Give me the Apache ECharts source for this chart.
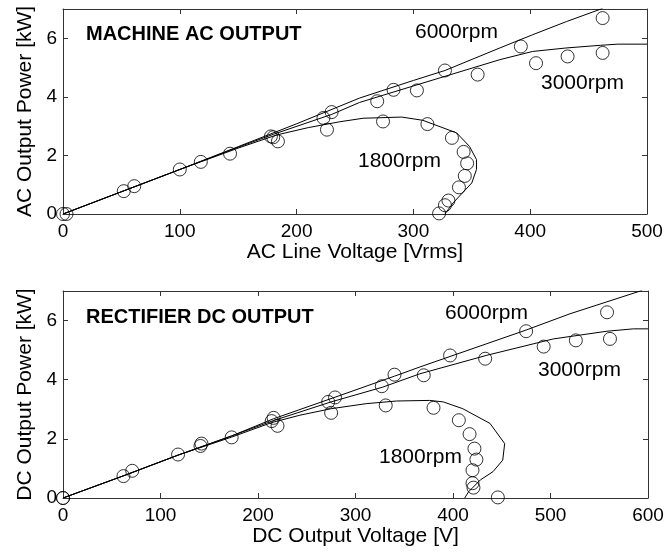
<!DOCTYPE html>
<html>
<head>
<meta charset="utf-8">
<script src="https://cdn.jsdelivr.net/npm/echarts@6/dist/echarts.min.js"></script>
<style>
  html, body { margin: 0; padding: 0; background: #fff; }
  #main { width: 669px; height: 557px; }
</style>
</head>
<body>
<div id="main"></div>
<script>
// ---- machine AC output (top) ----
// fitted curves
var acCurve6000V = [0, 50, 100, 150, 200, 254, 300, 327, 374, 402, 431, 462];
var acCurve6000P = [0, 0.76, 1.52, 2.3, 3.08, 3.96, 4.56, 4.9, 5.67, 6.12, 6.57, 7.02];
var acCurve3000V = [0, 50, 100, 150, 180, 230, 254, 303, 327, 374, 402, 431, 460, 475, 500];
var acCurve3000P = [0, 0.76, 1.52, 2.28, 2.72, 3.4, 3.81, 4.41, 4.7, 5.27, 5.55, 5.67, 5.76, 5.8, 5.8];
var acCurve1800V = [0, 50, 100, 150, 183, 210, 237, 257, 290, 308, 337, 348, 354, 354, 350, 342, 334, 327];
var acCurve1800P = [0, 0.76, 1.52, 2.25, 2.7, 2.95, 3.15, 3.27, 3.31, 3.2, 2.77, 2.31, 1.86, 1.52, 1.06, 0.72, 0.38, 0];
// measured points
var acMeas6000V = [3, 61, 118, 180, 230, 283, 327, 392, 462];
var acMeas6000P = [0, 0.95, 1.78, 2.62, 3.48, 4.24, 4.9, 5.72, 6.69];
var acMeas3000V = [0, 52, 100, 143, 178, 223, 269, 303, 355, 405, 432, 462];
var acMeas3000P = [0, 0.78, 1.52, 2.06, 2.65, 3.28, 3.85, 4.22, 4.76, 5.15, 5.38, 5.5];
var acMeas1800V = [184, 226, 274, 312, 333, 343, 346, 344, 339, 330, 327, 322];
var acMeas1800P = [2.48, 2.88, 3.16, 3.07, 2.6, 2.12, 1.73, 1.3, 0.91, 0.46, 0.3, 0.02];

// ---- rectifier DC output (bottom) ----
var dcCurve6000V = [0, 62, 118, 173, 216, 280, 340, 366, 434, 475, 520, 594];
var dcCurve6000P = [0, 0.75, 1.45, 2.1, 2.68, 3.42, 4.12, 4.43, 5.21, 5.68, 6.23, 7.02];
var dcCurve3000V = [0, 62, 118, 173, 216, 275, 328, 366, 434, 503, 558, 585, 600];
var dcCurve3000P = [0, 0.75, 1.45, 2.1, 2.62, 3.25, 3.75, 4.2, 4.82, 5.38, 5.64, 5.72, 5.72];
var dcCurve1800V = [0, 62, 118, 173, 214, 243, 275, 311, 342, 376, 390, 410, 438, 453, 451, 441, 428, 416, 412];
var dcCurve1800P = [0, 0.75, 1.45, 2.06, 2.55, 2.8, 3.02, 3.19, 3.28, 3.3, 3.25, 3.02, 2.52, 1.84, 1.28, 0.89, 0.61, 0.21, 0];
var dcMeas6000V = [0, 71, 142, 216, 279, 340, 397, 475, 558];
var dcMeas6000P = [0, 0.92, 1.84, 2.71, 3.4, 4.17, 4.82, 5.64, 6.28];
var dcMeas3000V = [0, 62, 118, 141, 173, 214, 272, 327, 370, 433, 493, 526, 561];
var dcMeas3000P = [0, 0.74, 1.47, 1.76, 2.05, 2.6, 3.25, 3.78, 4.15, 4.71, 5.12, 5.33, 5.38];
var dcMeas1800V = [220, 275, 331, 380, 406, 417, 422, 424, 420, 420, 421, 446];
var dcMeas1800P = [2.44, 2.88, 3.13, 3.05, 2.63, 2.16, 1.67, 1.3, 0.94, 0.5, 0.35, 0.02];

var yTicks = [0, 2, 4, 6];

function pairs(xs, ys) {
  var out = [];
  for (var i = 0; i < xs.length; i++) out.push([xs[i], ys[i]]);
  return out;
}

var FONT = 'Liberation Sans';
var frameColor = '#333';

function mainX(grid, max, name) {
  return {
    type: 'value', gridIndex: grid, min: 0, max: max, interval: 100,
    name: name, nameLocation: 'middle', nameGap: 28,
    nameTextStyle: { fontFamily: FONT, fontSize: 21, color: '#000' },
    axisLine: { show: true, onZero: false, lineStyle: { color: frameColor, width: 1 } },
    axisTick: { inside: true, length: 5, lineStyle: { color: frameColor } },
    axisLabel: { margin: 8, fontFamily: FONT, fontSize: 19, color: '#000' },
    splitLine: { show: false }
  };
}
function mainY(grid, name) {
  return {
    type: 'value', gridIndex: grid, min: 0, max: 7, interval: 2,
    name: name, nameLocation: 'middle', nameGap: 26,
    nameTextStyle: { fontFamily: FONT, fontSize: 21, color: '#000' },
    axisLine: { show: true, onZero: false, lineStyle: { color: frameColor, width: 1 } },
    axisTick: { inside: true, length: 5, lineStyle: { color: frameColor } },
    axisLabel: {
      margin: 6, fontFamily: FONT, fontSize: 19, color: '#000',
      formatter: function (v) { return yTicks.indexOf(v) >= 0 ? String(v) : ''; }
    },
    splitLine: { show: false }
  };
}
function frameX(grid, max) {
  return {
    type: 'value', gridIndex: grid, min: 0, max: max, interval: 100, position: 'top',
    axisLine: { show: true, onZero: false, lineStyle: { color: frameColor, width: 1 } },
    axisTick: { inside: true, length: 5, lineStyle: { color: frameColor } },
    axisLabel: { show: false }, splitLine: { show: false }
  };
}
function frameY(grid) {
  return {
    type: 'value', gridIndex: grid, min: 0, max: 7, interval: 2, position: 'right',
    axisLine: { show: true, onZero: false, lineStyle: { color: frameColor, width: 1 } },
    axisTick: { inside: true, length: 5, lineStyle: { color: frameColor } },
    axisLabel: { show: false }, splitLine: { show: false }
  };
}

function curve(name, xs, ys, axis) {
  return {
    name: name, type: 'line', xAxisIndex: axis, yAxisIndex: axis,
    data: pairs(xs, ys), showSymbol: false, symbol: 'none', silent: true,
    lineStyle: { color: '#000', width: 1 }, z: 2
  };
}
function meas(name, xs, ys, axis) {
  return {
    name: name, type: 'scatter', xAxisIndex: axis, yAxisIndex: axis,
    data: pairs(xs, ys), symbol: 'circle', symbolSize: 13, clip: false, silent: true,
    itemStyle: { color: 'rgba(0,0,0,0)', borderColor: '#000', borderWidth: 1 }, z: 3
  };
}

function label(text, x, y, bold) {
  return {
    type: 'text', x: x, y: y, silent: true,
    style: {
      text: text, fill: '#000',
      font: (bold ? 'bold ' : '') + (bold ? '20px ' : '21px ') + FONT,
      verticalAlign: 'middle', textVerticalAlign: 'middle'
    }
  };
}

var chart = echarts.init(document.getElementById('main'));
chart.setOption({
  animation: false,
  backgroundColor: '#fff',
  grid: [
    { left: 63, top: 9, right: 22, height: 205 },
    { left: 63, top: 291, right: 21, height: 207 }
  ],
  xAxis: [
    mainX(0, 500, 'AC Line Voltage [Vrms]'),
    mainX(1, 600, 'DC Output Voltage [V]'),
    frameX(0, 500),
    frameX(1, 600)
  ],
  yAxis: [
    mainY(0, 'AC Output Power [kW]'),
    mainY(1, 'DC Output Power [kW]'),
    frameY(0),
    frameY(1)
  ],
  graphic: [
    label('MACHINE AC OUTPUT', 86, 34, true),
    label('6000rpm', 415, 32),
    label('3000rpm', 541, 83),
    label('1800rpm', 358, 161),
    label('RECTIFIER DC OUTPUT', 86, 317, true),
    label('6000rpm', 445, 313),
    label('3000rpm', 538, 370),
    label('1800rpm', 379, 457)
  ],
  series: [
    curve('AC 6000rpm', acCurve6000V, acCurve6000P, 0),
    curve('AC 3000rpm', acCurve3000V, acCurve3000P, 0),
    curve('AC 1800rpm', acCurve1800V, acCurve1800P, 0),
    meas('AC 6000rpm meas', acMeas6000V, acMeas6000P, 0),
    meas('AC 3000rpm meas', acMeas3000V, acMeas3000P, 0),
    meas('AC 1800rpm meas', acMeas1800V, acMeas1800P, 0),
    curve('DC 6000rpm', dcCurve6000V, dcCurve6000P, 1),
    curve('DC 3000rpm', dcCurve3000V, dcCurve3000P, 1),
    curve('DC 1800rpm', dcCurve1800V, dcCurve1800P, 1),
    meas('DC 6000rpm meas', dcMeas6000V, dcMeas6000P, 1),
    meas('DC 3000rpm meas', dcMeas3000V, dcMeas3000P, 1),
    meas('DC 1800rpm meas', dcMeas1800V, dcMeas1800P, 1)
  ]
});
</script>
</body>
</html>
